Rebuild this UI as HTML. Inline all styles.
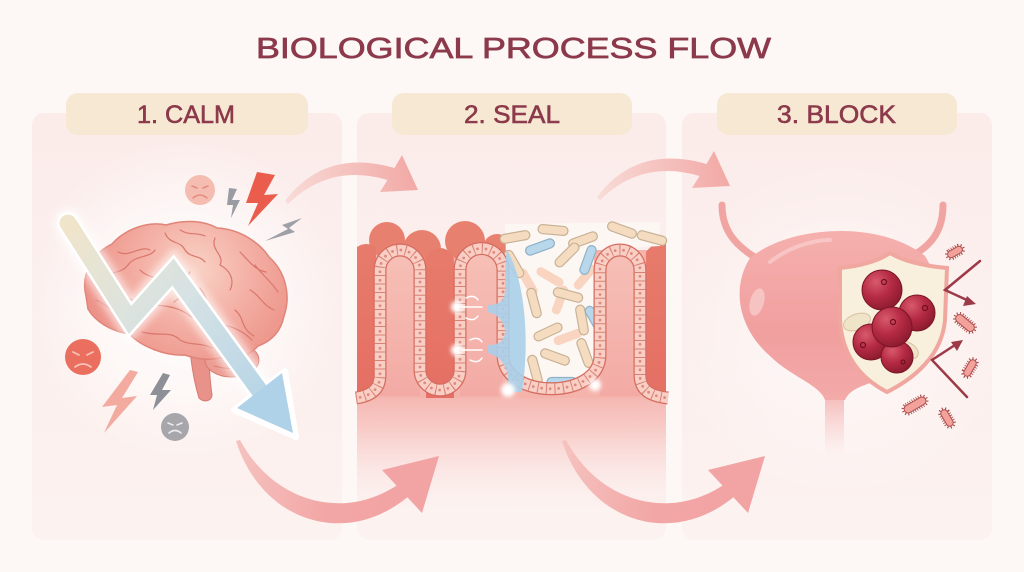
<!DOCTYPE html>
<html><head><meta charset="utf-8"><style>
html,body{margin:0;padding:0;background:#fdf8f6;}
svg{display:block}
</style></head><body>
<svg width="1024" height="572" viewBox="0 0 1024 572" xmlns="http://www.w3.org/2000/svg">
<defs>
 <linearGradient id="pg" x1="0" y1="0" x2="0" y2="1"><stop offset="0" stop-color="#fbecea"/><stop offset="1" stop-color="#fcf2f0"/></linearGradient>
 <radialGradient id="glow1" cx="185" cy="300" r="160" gradientUnits="userSpaceOnUse"><stop offset="0" stop-color="#fff" stop-opacity=".95"/><stop offset=".6" stop-color="#fff" stop-opacity=".5"/><stop offset="1" stop-color="#fff" stop-opacity="0"/></radialGradient>
 <radialGradient id="glow3" cx="840" cy="330" r="170" gradientUnits="userSpaceOnUse"><stop offset="0" stop-color="#fff" stop-opacity=".6"/><stop offset="1" stop-color="#fff" stop-opacity="0"/></radialGradient>
 <radialGradient id="brain" cx="195" cy="270" r="110" gradientUnits="userSpaceOnUse"><stop offset="0" stop-color="#f9d3c6"/><stop offset=".5" stop-color="#f4b0a5"/><stop offset="1" stop-color="#ec9288"/></radialGradient>
 <linearGradient id="zz" x1="68" y1="223" x2="293" y2="433" gradientUnits="userSpaceOnUse"><stop offset="0" stop-color="#f0e5ca"/><stop offset=".45" stop-color="#d6e2e4"/><stop offset="1" stop-color="#acd0e8"/></linearGradient>
 <linearGradient id="topArr" x1="285" y1="200" x2="418" y2="175" gradientUnits="userSpaceOnUse"><stop offset="0" stop-color="#f8dcd8"/><stop offset="1" stop-color="#f2a8a5"/></linearGradient>
 <linearGradient id="botArr" x1="238" y1="440" x2="439" y2="470" gradientUnits="userSpaceOnUse"><stop offset="0" stop-color="#f5c2bf"/><stop offset=".5" stop-color="#f2a6a5"/><stop offset="1" stop-color="#f2a3a3"/></linearGradient>
 <linearGradient id="p2bot" x1="0" y1="0" x2="0" y2="1"><stop offset="0" stop-color="#f4b0aa"/><stop offset=".35" stop-color="#f8cbc7"/><stop offset="1" stop-color="#fbeceb" stop-opacity="0"/></linearGradient>
 <linearGradient id="dark" x1="0" y1="0" x2="0" y2="1"><stop offset="0" stop-color="#e77b6b"/><stop offset="1" stop-color="#e56f64"/></linearGradient>
 <linearGradient id="lightv" x1="0" y1="0" x2="0" y2="1"><stop offset="0" stop-color="#f6c0b6"/><stop offset="1" stop-color="#f3aaa5"/></linearGradient>
 <linearGradient id="blad" x1="0" y1="0" x2="0" y2="1"><stop offset="0" stop-color="#f5b0ad"/><stop offset=".6" stop-color="#f19f9f"/><stop offset="1" stop-color="#f3aaa9"/></linearGradient>
 <linearGradient id="ureth" x1="0" y1="0" x2="0" y2="1"><stop offset="0" stop-color="#f1a3a2"/><stop offset="1" stop-color="#f6c4c2" stop-opacity="0"/></linearGradient>
 <radialGradient id="berry" cx=".35" cy=".3" r=".75"><stop offset="0" stop-color="#d85a6c"/><stop offset=".5" stop-color="#b62b44"/><stop offset="1" stop-color="#8a1a2e"/></radialGradient>
 <filter id="blur4" x="-50%" y="-50%" width="200%" height="200%"><feGaussianBlur stdDeviation="4"/></filter>
 <filter id="blur2" x="-50%" y="-50%" width="200%" height="200%"><feGaussianBlur stdDeviation="2"/></filter>
</defs>

<rect width="1024" height="572" fill="#fdf8f6"/>

<!-- Title -->
<text x="256" y="58" font-family="Liberation Sans, sans-serif" font-size="29" fill="#8c3a4b" stroke="#8c3a4b" stroke-width="0.7" textLength="515" lengthAdjust="spacingAndGlyphs">BIOLOGICAL PROCESS FLOW</text>

<!-- Panels -->
<rect x="32" y="113" width="310" height="427" rx="12" fill="url(#pg)"/>
<rect x="357" y="113" width="309" height="427" rx="12" fill="url(#pg)"/>
<rect x="682" y="113" width="310" height="427" rx="12" fill="url(#pg)"/>
<rect x="32" y="113" width="310" height="427" rx="12" fill="url(#glow1)"/>
<rect x="682" y="113" width="310" height="427" rx="12" fill="url(#glow3)"/>

<!-- Pills -->
<rect x="66" y="93" width="242" height="42" rx="12" fill="#f6e8d2"/>
<rect x="392" y="93" width="240" height="42" rx="12" fill="#f6e8d2"/>
<rect x="717" y="93" width="240" height="42" rx="12" fill="#f6e8d2"/>
<g font-family="Liberation Sans, sans-serif" font-size="25" fill="#8c3a4b" stroke="#8c3a4b" stroke-width="0.6">
<text x="137" y="123" textLength="98" lengthAdjust="spacingAndGlyphs">1. CALM</text>
<text x="464" y="123" textLength="96" lengthAdjust="spacingAndGlyphs">2. SEAL</text>
<text x="777" y="123" textLength="119" lengthAdjust="spacingAndGlyphs">3. BLOCK</text>
</g>

<!-- ============ PANEL 1 ============ -->
<path d="M190 350 C192 370,195 385,199 398 C204 403,212 401,212 395 C210 380,208 365,212 350 Z" fill="#e8928a" stroke="#d77a70" stroke-width="1"/>
<ellipse cx="232" cy="360" rx="27" ry="17" fill="#ec9d93" stroke="#d77a70" stroke-width="1"/>
<path d="M212 356 C225 360,238 358,252 362 M214 366 C228 370,240 368,250 372" stroke="#d77a70" stroke-width="1" fill="none"/>
<path d="M86 296 C80 272,95 252,112 244 C125 229,148 221,166 225 C186 219,205 221,217 228 C240 229,260 243,269 257 C286 272,291 296,284 316 C281 331,272 341,258 346 C250 355,238 360,224 357 C210 361,196 359,185 355 C165 356,142 347,129 334 C110 331,95 321,88 309 Z" fill="url(#brain)" stroke="#e08479" stroke-width="1.5"/>
<g stroke="#d9776c" stroke-width="1.2" fill="none" stroke-linecap="round">
<path d="M100 280 C110 270,120 275,128 265 C135 255,150 258,155 250"/>
<path d="M118 252 C130 258,140 245,150 250"/>
<path d="M165 233 C170 245,180 240,185 250 C190 258,200 255,205 262"/>
<path d="M215 238 C210 250,225 255,220 265 C230 270,235 280,230 290"/>
<path d="M240 252 C250 262,255 270,266 272"/>
<path d="M250 290 C260 295,262 305,274 310"/>
<path d="M235 310 C245 318,240 328,254 336"/>
<path d="M200 288 C210 300,205 310,215 318"/>
<path d="M142 332 C160 337,170 330,180 340 C190 346,200 342,212 348"/>
<path d="M96 300 C108 305,115 315,126 318"/>
<path d="M190 272 C180 285,186 295,174 302"/>
<path d="M128 298 C150 310,170 300,190 316 C210 326,232 320,252 340"/>
<path d="M140 270 C150 280,160 275,168 285"/>
<path d="M180 230 C190 236,196 232,205 236"/>
<path d="M255 265 C262 275,270 280,278 292"/>
</g>
<polyline points="68,223 130,320 173,272 262,394" fill="none" stroke="#fff" stroke-width="30" stroke-linecap="round" opacity=".6" filter="url(#blur4)"/>
<polygon points="234,410 285,371 296,437" fill="#fff" stroke="#fff" stroke-width="6" stroke-linejoin="round"/>
<polyline points="68,223 130,320 173,272 262,394" fill="none" stroke="#fff" stroke-width="22" stroke-linecap="round" stroke-linejoin="miter"/>
<polyline points="68,223 130,320 173,272 262,394" fill="none" stroke="url(#zz)" stroke-width="17" stroke-linecap="round" stroke-linejoin="miter"/>
<polygon points="237,408 282,373 293,433" fill="#b0d2e8"/>
<circle cx="200" cy="190" r="15" fill="#f5bcb1"/>
<path d="M192 186 l5 2 M208 186 l-5 2 M193 198 q7 -6 14 0" stroke="#e58a7e" stroke-width="1.5" fill="none" stroke-linecap="round"/>
<circle cx="83" cy="357" r="18" fill="#ea6f5f"/>
<path d="M73 352 l6 3 M93 352 l-6 3 M75 367 q8 -6 16 0" stroke="#f8c2b6" stroke-width="1.8" fill="none" stroke-linecap="round"/>
<circle cx="175" cy="427" r="14" fill="#a6a6ab"/>
<path d="M168 423 l5 2 M182 423 l-5 2 M169 433 q6 -5 12 0" stroke="#ececee" stroke-width="1.6" fill="none" stroke-linecap="round"/>
<polygon points="257,172 275,175 264,195 278,194 248,226 258,203 246,203" fill="#ea5d4d"/>
<polygon points="229,188 237,189 232,200 240,200 231,218 233,205 227,205" fill="#9a9ca3"/>
<polygon points="302,218 282,225 288,229 265,241 295,232 289,228" fill="#9ea0a7"/>
<polygon points="130,370 138,372 122,398 137,396 104,433 117,405 102,407" fill="#f3aa9f"/>
<polygon points="163,373 170,375 162,390 171,390 153,410 157,395 150,395" fill="#8e9098"/>

<!-- ============ PANEL 2 ============ -->
<rect x="357" y="385" width="309" height="125" fill="url(#p2bot)"/>
<rect x="357" y="250" width="309" height="148" fill="#f4b4ac"/>
<g fill="#e8806f">
<circle cx="387" cy="240" r="18"/>
<circle cx="422" cy="249" r="19"/>
<circle cx="465" cy="241" r="20"/>
<circle cx="497" cy="248" r="14"/>
</g>
<path d="M357 247 Q366 241 376 247 L376 396 L357 398 Z" fill="url(#dark)"/>
<path d="M426 398 L426 262 A14 14 0 0 1 454 262 L454 398 Z" fill="url(#dark)"/>
<path d="M646 398 L646 252 Q654 241 666 244 L666 398 Z" fill="url(#dark)"/>
<path d="M380 396 L380 270 A20 20 0 0 1 420 270 L420 396 Z" fill="url(#lightv)"/>
<path d="M460 396 L460 270 A21.5 21.5 0 0 1 503 270 L503 396 Z" fill="url(#lightv)"/>
<path d="M600 396 L600 270 A20 20 0 0 1 640 270 L640 396 Z" fill="url(#lightv)"/>
<path d="M505 224 L660 222 L660 246 L594 250 L594 355 C594 394,509 394,509 355 Z" fill="#fdf7f4"/>
<g stroke-width="1.2">
<g fill="#f6c6ac" opacity=".7">
<rect x="-15" y="-4.5" width="30" height="9" rx="4.5" transform="translate(550,277) rotate(30)"/>
<rect x="-15" y="-4.5" width="30" height="9" rx="4.5" transform="translate(585,277) rotate(-50)"/>
<rect x="-15" y="-4.5" width="30" height="9" rx="4.5" transform="translate(568,337) rotate(-20)"/>
<rect x="-15" y="-4.5" width="30" height="9" rx="4.5" transform="translate(528,282) rotate(60)"/>
<rect x="-15" y="-4.5" width="30" height="9" rx="4.5" transform="translate(560,300) rotate(-70)"/>
</g>
<g fill="#f5dcc0" stroke="#c8b296">
<rect x="-15" y="-4.5" width="30" height="9" rx="4.5" transform="translate(515,237) rotate(-10)"/>
<rect x="-15" y="-4.5" width="30" height="9" rx="4.5" transform="translate(553,230) rotate(5)"/>
<rect x="-15" y="-4.5" width="30" height="9" rx="4.5" transform="translate(583,240) rotate(-20)"/>
<rect x="-15" y="-4.5" width="30" height="9" rx="4.5" transform="translate(622,230) rotate(20)"/>
<rect x="-15" y="-4.5" width="30" height="9" rx="4.5" transform="translate(652,238) rotate(15)"/>
<rect x="-15" y="-4.5" width="30" height="9" rx="4.5" transform="translate(514,264) rotate(60)"/>
<rect x="-15" y="-4.5" width="30" height="9" rx="4.5" transform="translate(567,255) rotate(-45)"/>
<rect x="-15" y="-4.5" width="30" height="9" rx="4.5" transform="translate(534,303) rotate(75)"/>
<rect x="-15" y="-4.5" width="30" height="9" rx="4.5" transform="translate(568,295) rotate(15)"/>
<rect x="-15" y="-4.5" width="30" height="9" rx="4.5" transform="translate(582,320) rotate(80)"/>
<rect x="-15" y="-4.5" width="30" height="9" rx="4.5" transform="translate(548,332) rotate(-25)"/>
<rect x="-15" y="-4.5" width="30" height="9" rx="4.5" transform="translate(555,357) rotate(20)"/>
<rect x="-15" y="-4.5" width="30" height="9" rx="4.5" transform="translate(585,353) rotate(70)"/>
<rect x="-15" y="-4.5" width="30" height="9" rx="4.5" transform="translate(535,370) rotate(75)"/>
</g>
<g fill="#b8d7ea" stroke="#8fb2c8">
<rect x="-15" y="-4.5" width="30" height="9" rx="4.5" transform="translate(540,247) rotate(-20)"/>
<rect x="-15" y="-4.5" width="30" height="9" rx="4.5" transform="translate(588,260) rotate(-70)"/>
<rect x="-15" y="-4.5" width="30" height="9" rx="4.5" transform="translate(595,320) rotate(60)"/>
<rect x="-15" y="-4.5" width="30" height="9" rx="4.5" transform="translate(562,382) rotate(0)"/>
</g>
</g>
<g fill="none">
<path d="M356 398 C370 396,380 390,380 375 L380 270 A20 20 0 0 1 420 270 L420 370 A20 20 0 0 0 460 370 L460 270 A21.5 21.5 0 0 1 503 270 L503 355 C503 400,600 400,600 355 L600 270 A20 20 0 0 1 640 270 L640 375 C640 390,650 396,668 398" stroke="#d46d60" stroke-width="13"/>
<path d="M356 398 C370 396,380 390,380 375 L380 270 A20 20 0 0 1 420 270 L420 370 A20 20 0 0 0 460 370 L460 270 A21.5 21.5 0 0 1 503 270 L503 355 C503 400,600 400,600 355 L600 270 A20 20 0 0 1 640 270 L640 375 C640 390,650 396,668 398" stroke="#f9cfc5" stroke-width="10.5"/>
<path d="M356 398 C370 396,380 390,380 375 L380 270 A20 20 0 0 1 420 270 L420 370 A20 20 0 0 0 460 370 L460 270 A21.5 21.5 0 0 1 503 270 L503 355 C503 400,600 400,600 355 L600 270 A20 20 0 0 1 640 270 L640 375 C640 390,650 396,668 398" stroke="#d88072" stroke-width="10.5" stroke-dasharray="1 7.5"/>
<path d="M356 398 C370 396,380 390,380 375 L380 270 A20 20 0 0 1 420 270 L420 370 A20 20 0 0 0 460 370 L460 270 A21.5 21.5 0 0 1 503 270 L503 355 C503 400,600 400,600 355 L600 270 A20 20 0 0 1 640 270 L640 375 C640 390,650 396,668 398" stroke="#df8a7e" stroke-width="2.8" stroke-dasharray="0 8.5" stroke-dashoffset="-4.2" stroke-linecap="round"/>
</g>
<path d="M507 250 C525 280,530 340,522 392 L508 392 C510 372,505 358,488 353 L488 345 C500 345,505 340,505 330 C503 320,498 315,488 312 L488 305 C500 305,505 300,505 290 C505 275,505 262,507 250 Z" fill="#a9cfea" opacity=".9"/>
<g fill="#fff" filter="url(#blur2)">
<circle cx="457" cy="307" r="6"/><circle cx="457" cy="350" r="6"/>
<circle cx="508" cy="390" r="7"/><circle cx="595" cy="385" r="6"/>
</g>
<g stroke="#fff" stroke-width="1.4" fill="none" stroke-linecap="round">
<path d="M466 298 q8 -4 12 2 M466 318 q8 4 12 -2 M470 340 q8 -4 12 2 M470 360 q8 4 12 -2 M462 307 h20 M462 350 h20"/>
</g>

<!-- ============ PANEL 3 ============ -->
<path d="M722 205 C722 230,735 245,756 258" stroke="#f0a5a3" stroke-width="7" fill="none" stroke-linecap="round"/>
<path d="M943 205 C943 230,932 245,912 256" stroke="#f0a5a3" stroke-width="7" fill="none" stroke-linecap="round"/>
<rect x="825" y="380" width="19" height="75" fill="url(#ureth)"/>
<path d="M750 258 C790 225,880 220,925 256 C946 288,940 340,900 370 C875 385,852 384,845 400 L825 400 C820 385,790 376,770 356 C740 330,730 290,750 258 Z" fill="url(#blad)"/>
<ellipse cx="757" cy="302" rx="7" ry="14" fill="#fff" opacity=".35" transform="rotate(15 757 302)"/>
<path d="M770 262 C790 246,815 240,830 240" stroke="#fff" stroke-width="4" opacity=".3" fill="none" stroke-linecap="round"/>
<path d="M890 253 C905 262,925 266,947 268 L945 320 C942 355,915 378,887 392 C860 378,842 355,840 320 L840 268 C860 266,877 262,890 253 Z" fill="#f8efdc" stroke="#efa79f" stroke-width="4"/>
<g fill="#efe3c8" stroke="#d6c4a2" stroke-width="1">
<ellipse cx="857" cy="322" rx="14" ry="8" transform="rotate(-20 857 322)"/>
<ellipse cx="906" cy="350" rx="13" ry="8" transform="rotate(25 906 350)"/>
<ellipse cx="872" cy="285" rx="12" ry="7" transform="rotate(-50 872 285)"/>
</g>
<g stroke="#7a1526" stroke-width="1">
<circle cx="882" cy="290" r="20" fill="url(#berry)"/>
<circle cx="917" cy="313" r="18" fill="url(#berry)"/>
<circle cx="871" cy="342" r="18" fill="url(#berry)"/>
<circle cx="897" cy="357" r="16" fill="url(#berry)"/>
<circle cx="892" cy="327" r="20" fill="url(#berry)"/>
</g>
<g fill="none" stroke="#6e1020" stroke-width="1.2">
<circle cx="884" cy="282" r="2.5"/><circle cx="925" cy="308" r="2.5"/><circle cx="863" cy="345" r="2.5"/><circle cx="893" cy="322" r="2.5"/><circle cx="903" cy="362" r="2"/>
</g>
<g stroke="#9c3a48" stroke-width="2.5" fill="none" stroke-linecap="round">
<path d="M980 261 L945 290 L969 301"/>
<path d="M967 397 L932 360 L955 345"/>
</g>
<polygon points="976,304 963,306 967,296" fill="#9c3a48"/>
<polygon points="963,340 957,351 951,342" fill="#9c3a48"/>
<g>
<g transform="translate(955,252) rotate(-30)"><rect x="-8" y="-3.5" width="16" height="7" rx="3.5" fill="none" stroke="#a84848" stroke-width="5" stroke-dasharray="0.8 1.6"/><rect x="-8" y="-3.5" width="16" height="7" rx="3.5" fill="#f2a29a" stroke="#b05050"/></g>
<g transform="translate(965,323) rotate(40)"><rect x="-11" y="-4" width="22" height="8" rx="4" fill="none" stroke="#a84848" stroke-width="5" stroke-dasharray="0.8 1.6"/><rect x="-11" y="-4" width="22" height="8" rx="4" fill="#f2a29a" stroke="#b05050"/></g>
<g transform="translate(970,368) rotate(-60)"><rect x="-9" y="-3.5" width="18" height="7" rx="3.5" fill="none" stroke="#a84848" stroke-width="5" stroke-dasharray="0.8 1.6"/><rect x="-9" y="-3.5" width="18" height="7" rx="3.5" fill="#f2a29a" stroke="#b05050"/></g>
<g transform="translate(915,405) rotate(-30)"><rect x="-12" y="-4" width="24" height="8" rx="4" fill="none" stroke="#a84848" stroke-width="5" stroke-dasharray="0.8 1.6"/><rect x="-12" y="-4" width="24" height="8" rx="4" fill="#f2a29a" stroke="#b05050"/></g>
<g transform="translate(947,418) rotate(60)"><rect x="-9" y="-3.5" width="18" height="7" rx="3.5" fill="none" stroke="#a84848" stroke-width="5" stroke-dasharray="0.8 1.6"/><rect x="-9" y="-3.5" width="18" height="7" rx="3.5" fill="#f2a29a" stroke="#b05050"/></g>
</g>

<!-- ============ FLOW ARROWS ============ -->
<path d="M285 201 Q325 148 394.5 168 L402 155 L418 190 L380 192 L387.5 180 Q330 163 288 204 Z" fill="url(#topArr)"/>
<g transform="translate(312,-4)"><path d="M285 201 Q325 148 394.5 168 L402 155 L418 190 L380 192 L387.5 180 Q330 163 288 204 Z" fill="url(#topArr)"/></g>
<path d="M236 441 C262 522,345 548,407.4 497.3 L422 513 L439 456 L382 470 L396.5 485.6 C340 522,272 500,240 440 Z" fill="url(#botArr)"/>
<g transform="translate(326,0)"><path d="M236 441 C262 522,345 548,407.4 497.3 L422 513 L439 456 L382 470 L396.5 485.6 C340 522,272 500,240 440 Z" fill="url(#botArr)"/></g>
</svg>
</body></html>
